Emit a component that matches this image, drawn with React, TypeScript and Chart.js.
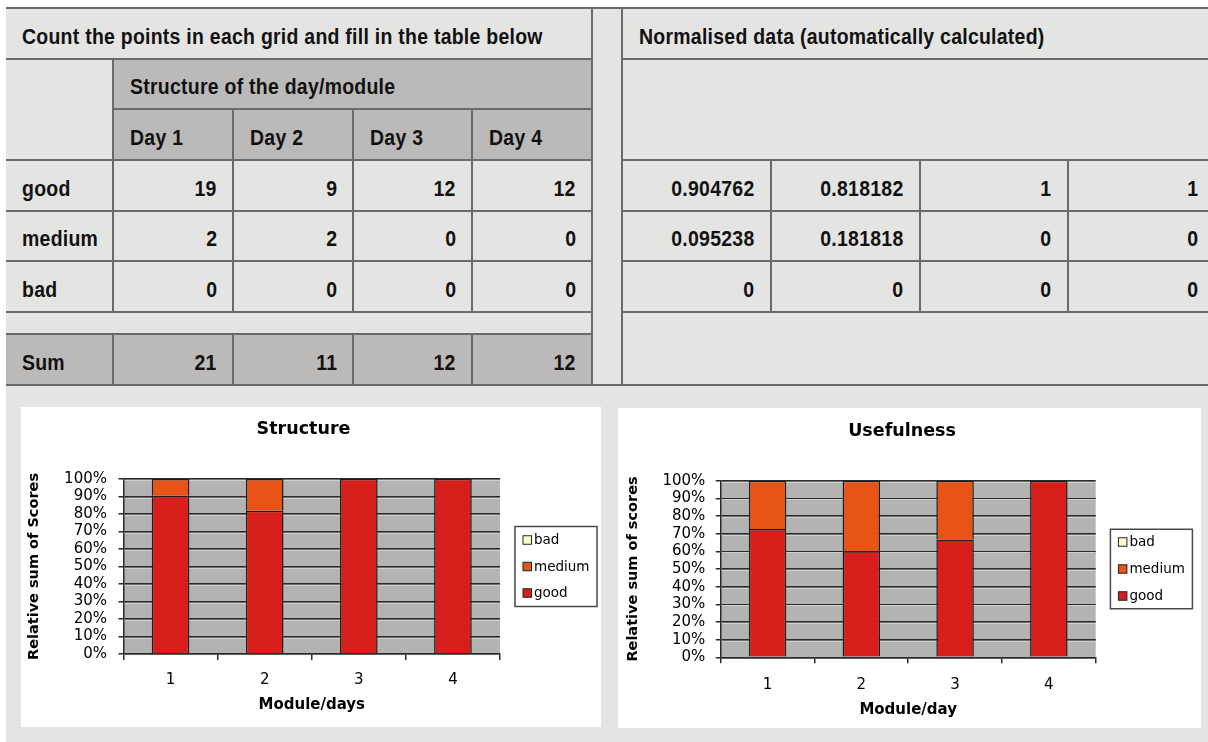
import React, { useEffect, useRef } from 'react';
import { Chart, registerables } from 'chart.js';

Chart.register(...registerables);

// ---------------- data ----------------
const dayLabels = ['Day 1', 'Day 2', 'Day 3', 'Day 4'];
const scoreNames = ['good', 'medium', 'bad'];
const goodCounts = [19, 9, 12, 12];
const mediumCounts = [2, 2, 0, 0];
const badCounts = [0, 0, 0, 0];

const moduleLabels = ['1', '2', '3', '4'];
const usefulnessGood = [72.7, 60, 66.7, 100];
const usefulnessMedium = [27.3, 40, 33.3, 0];
const usefulnessBad = [0, 0, 0, 0];

const percentTickValues = [0, 10, 20, 30, 40, 50, 60, 70, 80, 90, 100];
const percentTickLabels = ['0%', '10%', '20%', '30%', '40%', '50%', '60%', '70%', '80%', '90%', '100%'];

const countRows = [goodCounts, mediumCounts, badCounts];
const sums = dayLabels.map((_, i) => goodCounts[i] + mediumCounts[i] + badCounts[i]);
const normRows = countRows.map((row) => row.map((v, i) => v / sums[i]));
const structureGood = normRows[0].map((v) => v * 100);
const structureMedium = normRows[1].map((v) => v * 100);
const structureBad = normRows[2].map((v) => v * 100);

const fmt = (v: number) => String(Number(v.toFixed(6)));

// ---------------- styles ----------------
const LIGHT = '#e4e4e2';
const DARK = '#bbbab8';
const LINE = '#6a6a6a';
const TABLE_FONT = "'Liberation Sans', Arial, sans-serif";
const CHART_FONT = "'DejaVu Sans', Verdana, sans-serif";

const COLOR_GOOD = '#d81e1a';
const COLOR_MEDIUM = '#e85316';
const COLOR_BAD = '#ffffcc';

const leftCols = [6, 113, 233, 353, 472, 592];
const rightCols = [622, 771, 920, 1068, 1215];
const rows = [8, 59, 109, 160, 211, 261, 312, 334, 385];

Chart.defaults.font.family = CHART_FONT;

const plotBg = {
  id: 'plotBg',
  beforeDraw(chart: any) {
    const { ctx, chartArea } = chart;
    ctx.save();
    ctx.fillStyle = '#b3b3b3';
    ctx.fillRect(chartArea.left, chartArea.top, chartArea.right - chartArea.left, chartArea.bottom - chartArea.top);
    ctx.restore();
  },
  beforeDatasetsDraw(chart: any) {
    const { ctx, chartArea } = chart;
    const y = chart.scales.y;
    ctx.save();
    ctx.strokeStyle = '#cfcfcf';
    ctx.lineWidth = 1;
    y.ticks.forEach((t: any) => {
      if (t.value <= 0) return;
      const py = Math.round(y.getPixelForValue(t.value)) + 1.5;
      ctx.beginPath();
      ctx.moveTo(chartArea.left + 1, py);
      ctx.lineTo(chartArea.right, py);
      ctx.stroke();
    });
    ctx.restore();
  },
};

const legendBox = {
  id: 'legendBox',
  afterDraw(chart: any, _args: any, opts: any) {
    const { ctx, chartArea } = chart;
    const left = chartArea.right + opts.gap;
    const mid = (chartArea.top + chartArea.bottom) / 2 + (opts.dy || 0);
    const top = mid - opts.height / 2;
    ctx.save();
    ctx.strokeStyle = '#4a4a4a';
    ctx.lineWidth = 1.5;
    ctx.strokeRect(left, top, opts.width, opts.height);
    const items = chart.data.datasets.map((ds: any) => ({ label: ds.label, color: ds.backgroundColor })).reverse();
    items.forEach((it: any, i: number) => {
      const cy = mid + (i - (items.length - 1) / 2) * opts.spacing;
      const s = 8.5;
      ctx.fillStyle = it.color;
      ctx.fillRect(left + opts.markerX, cy - s / 2, s, s);
      ctx.strokeStyle = '#222';
      ctx.lineWidth = 1;
      ctx.strokeRect(left + opts.markerX, cy - s / 2, s, s);
      ctx.fillStyle = '#000';
      ctx.font = `13.5px ${CHART_FONT}`;
      ctx.textBaseline = 'middle';
      ctx.textAlign = 'left';
      ctx.fillText(it.label, left + opts.textX, cy + 0.5);
    });
    ctx.restore();
  },
};

type Geom = {
  left: number; top: number; w: number; h: number;
  titleTop: number; titleBottom: number;
  yWidth: number; spacer: number; xHeight: number;
  xTickPad: number; xTitleBottom: number; yTickPad: number; yTitlePad: number;
  legend: any;
};

function StackChart(props: {
  title: string; yTitle: string; xTitle: string;
  good: number[]; medium: number[]; bad: number[]; g: Geom;
}) {
  const ref = useRef<HTMLCanvasElement>(null);
  const { title, yTitle, xTitle, good, medium, bad, g } = props;
  useEffect(() => {
    const border = { borderColor: '#1e1e1e', borderWidth: 1.5 };
    const chart = new Chart(ref.current as HTMLCanvasElement, {
      type: 'bar',
      data: {
        labels: moduleLabels,
        datasets: [
          { label: scoreNames[0], data: good, backgroundColor: COLOR_GOOD, ...border },
          { label: scoreNames[1], data: medium, backgroundColor: COLOR_MEDIUM, ...border },
          { label: scoreNames[2], data: bad, backgroundColor: COLOR_BAD, ...border },
        ],
      },
      options: {
        animation: false,
        responsive: false,
        maintainAspectRatio: false,
        devicePixelRatio: 1,
        layout: { padding: { left: 0, right: 15, top: 0, bottom: 0 } },
        datasets: { bar: { categoryPercentage: 1, barPercentage: 0.4 } } as any,
        plugins: {
          legend: { display: false },
          tooltip: { enabled: false },
          title: {
            display: true,
            text: title,
            color: '#000',
            font: { family: CHART_FONT, size: 17.5, weight: 'bold', lineHeight: 1.2 },
            padding: { top: g.titleTop, bottom: g.titleBottom },
          },
          legendBox: g.legend,
        } as any,
        scales: {
          x: {
            stacked: true,
            grid: { display: true, drawOnChartArea: false, drawTicks: true, tickLength: 6, offset: true, color: '#2a2a2a', lineWidth: 1.5 },
            border: { display: true, color: '#2a2a2a', width: 1.5 },
            ticks: { color: '#000', font: { size: 15, lineHeight: 1.2 }, padding: g.xTickPad, autoSkip: false, maxRotation: 0 },
            title: {
              display: true, text: xTitle, color: '#000',
              font: { size: 15, weight: 'bold', lineHeight: 1.2 },
              padding: { top: 0, bottom: g.xTitleBottom },
            },
            afterFit: (s: any) => { s.height = g.xHeight; },
          },
          y: {
            stacked: true,
            min: 0,
            max: 100,
            afterBuildTicks: (s: any) => { s.ticks = percentTickValues.map((v) => ({ value: v })); },
            ticks: {
              color: '#000', font: { size: 15, lineHeight: 1 }, padding: g.yTickPad, autoSkip: false,
              callback: (_v: any, i: number) => percentTickLabels[i],
            },
            grid: { color: '#2a2a2a', lineWidth: 1.5, tickLength: 5, drawTicks: true },
            border: { display: true, color: '#2a2a2a', width: 1.5 },
            title: {
              display: true, text: yTitle, color: '#000',
              font: { size: 14.5, weight: 'bold', lineHeight: 1.2 },
              padding: { top: g.yTitlePad, bottom: 0 },
            },
            afterFit: (s: any) => { s.width = g.yWidth; },
          },
          spacer: {
            type: 'linear',
            position: 'right',
            display: true,
            grid: { display: false },
            ticks: { display: false },
            border: { display: false },
            afterFit: (s: any) => { s.width = g.spacer; },
          },
        } as any,
      },
      plugins: [plotBg, legendBox],
    });
    return () => chart.destroy();
  }, []);
  return (
    <div style={{ position: 'absolute', left: g.left, top: g.top, width: g.w, height: g.h, background: '#fff' }}>
      <canvas ref={ref} width={g.w} height={g.h} style={{ display: 'block', width: g.w, height: g.h }} />
    </div>
  );
}

const leftGeom: Geom = {
  left: 21, top: 407, w: 580, h: 320,
  titleTop: 11.8, titleBottom: 39.2,
  yWidth: 102.5, spacer: 86, xHeight: 73,
  xTickPad: 11, xTitleBottom: 13, yTickPad: 11.5, yTitlePad: 4.5,
  legend: { gap: 15, width: 82, height: 80, spacing: 26.5, markerX: 8, textX: 19 },
};
const rightGeom: Geom = {
  left: 618, top: 408, w: 583, h: 320,
  titleTop: 13.2, titleBottom: 38.5,
  yWidth: 102.7, spacer: 90.3, xHeight: 70.7,
  xTickPad: 12.7, xTitleBottom: 9, yTickPad: 10.4, yTitlePad: 6.8,
  legend: { gap: 14.7, width: 82, height: 79.5, spacing: 27, markerX: 8, textX: 19 },
};

function HLine({ y, x1, x2 }: { y: number; x1: number; x2: number }) {
  return <div style={{ position: 'absolute', left: x1, top: y - 1, width: x2 - x1, height: 2, background: LINE }} />;
}
function VLine({ x, y1, y2 }: { x: number; y1: number; y2: number }) {
  return <div style={{ position: 'absolute', left: x - 1, top: y1, width: 2, height: y2 - y1, background: LINE }} />;
}
function Txt({ x1, x2, y1, y2, text, align, pad }: { x1: number; x2: number; y1: number; y2: number; text: string; align: 'left' | 'right'; pad: number }) {
  return (
    <div
      style={{
        position: 'absolute', left: x1, top: y1 + 3, width: x2 - x1, height: y2 - y1,
        display: 'flex', alignItems: 'center',
        justifyContent: align === 'left' ? 'flex-start' : 'flex-end',
        paddingLeft: align === 'left' ? pad : 0, paddingRight: align === 'right' ? pad : 0,
        boxSizing: 'border-box',
      }}
    >
      <span
        style={{
          display: 'inline-block',
          fontFamily: TABLE_FONT, fontWeight: 'bold', fontSize: 21.6, letterSpacing: '0.3px',
          color: '#111', whiteSpace: 'nowrap', lineHeight: 1,
          transform: 'scaleX(0.9)',
          transformOrigin: align === 'left' ? 'left center' : 'right center',
        }}
      >
        {text}
      </span>
    </div>
  );
}

export default function App() {
  const L = leftCols;
  const R = rightCols;
  const Y = rows;
  const bodyRows = [3, 4, 5];
  return (
    <div style={{ position: 'fixed', left: 0, top: 0, width: 1208, height: 742, background: '#fff', overflow: 'hidden' }}>
      <div style={{ position: 'absolute', left: 6, top: 8, width: 1202, height: 734, background: LIGHT }} />
      {/* dark header and sum cells */}
      <div style={{ position: 'absolute', left: L[1], top: Y[1], width: L[5] - L[1], height: Y[3] - Y[1], background: DARK }} />
      <div style={{ position: 'absolute', left: L[0], top: Y[7], width: L[5] - L[0], height: Y[8] - Y[7], background: DARK }} />

      {/* horizontal lines */}
      <HLine y={Y[0]} x1={6} x2={1208} />
      <HLine y={Y[8]} x1={6} x2={1208} />
      {[1, 3, 4, 5, 6].map((r) => (
        <React.Fragment key={'h' + r}>
          <HLine y={Y[r]} x1={L[0]} x2={L[5]} />
          <HLine y={Y[r]} x1={R[0]} x2={1208} />
        </React.Fragment>
      ))}
      <HLine y={Y[2]} x1={L[1]} x2={L[5]} />
      <HLine y={Y[7]} x1={L[0]} x2={L[5]} />

      {/* vertical lines */}
      <VLine x={L[1]} y1={Y[1]} y2={Y[6]} />
      <VLine x={L[1]} y1={Y[7]} y2={Y[8]} />
      {[2, 3, 4].map((c) => (
        <React.Fragment key={'v' + c}>
          <VLine x={L[c]} y1={Y[2]} y2={Y[6]} />
          <VLine x={L[c]} y1={Y[7]} y2={Y[8]} />
        </React.Fragment>
      ))}
      <VLine x={L[5]} y1={Y[0]} y2={Y[8]} />
      <VLine x={R[0]} y1={Y[0]} y2={Y[8]} />
      {[1, 2, 3].map((c) => (
        <VLine key={'rv' + c} x={R[c]} y1={Y[3]} y2={Y[6]} />
      ))}

      {/* texts left table */}
      <Txt x1={L[0]} x2={L[5]} y1={Y[0]} y2={Y[1]} text="Count the points in each grid and fill in the table below" align="left" pad={16} />
      <Txt x1={L[1]} x2={L[5]} y1={Y[1]} y2={Y[2]} text="Structure of the day/module" align="left" pad={17} />
      {dayLabels.map((d, i) => (
        <Txt key={d} x1={L[i + 1]} x2={L[i + 2]} y1={Y[2]} y2={Y[3]} text={d} align="left" pad={17} />
      ))}
      {scoreNames.map((n, r) => (
        <React.Fragment key={n}>
          <Txt x1={L[0]} x2={L[1]} y1={Y[bodyRows[r]]} y2={Y[bodyRows[r] + 1]} text={n} align="left" pad={16} />
          {countRows[r].map((v, i) => (
            <Txt key={i} x1={L[i + 1]} x2={L[i + 2]} y1={Y[bodyRows[r]]} y2={Y[bodyRows[r] + 1]} text={String(v)} align="right" pad={16} />
          ))}
          {normRows[r].map((v, i) => (
            <Txt key={'n' + i} x1={R[i]} x2={R[i + 1]} y1={Y[bodyRows[r]]} y2={Y[bodyRows[r] + 1]} text={fmt(v)} align="right" pad={16.5} />
          ))}
        </React.Fragment>
      ))}
      <Txt x1={L[0]} x2={L[1]} y1={Y[7]} y2={Y[8]} text="Sum" align="left" pad={16} />
      {sums.map((v, i) => (
        <Txt key={'s' + i} x1={L[i + 1]} x2={L[i + 2]} y1={Y[7]} y2={Y[8]} text={String(v)} align="right" pad={16} />
      ))}
      <Txt x1={R[0]} x2={1208} y1={Y[0]} y2={Y[1]} text="Normalised data (automatically calculated)" align="left" pad={17} />

      <StackChart
        title="Structure" yTitle="Relative sum of Scores" xTitle="Module/days"
        good={structureGood} medium={structureMedium} bad={structureBad} g={leftGeom}
      />
      <StackChart
        title="Usefulness" yTitle="Relative sum of scores" xTitle="Module/day"
        good={usefulnessGood} medium={usefulnessMedium} bad={usefulnessBad} g={rightGeom}
      />
    </div>
  );
}
